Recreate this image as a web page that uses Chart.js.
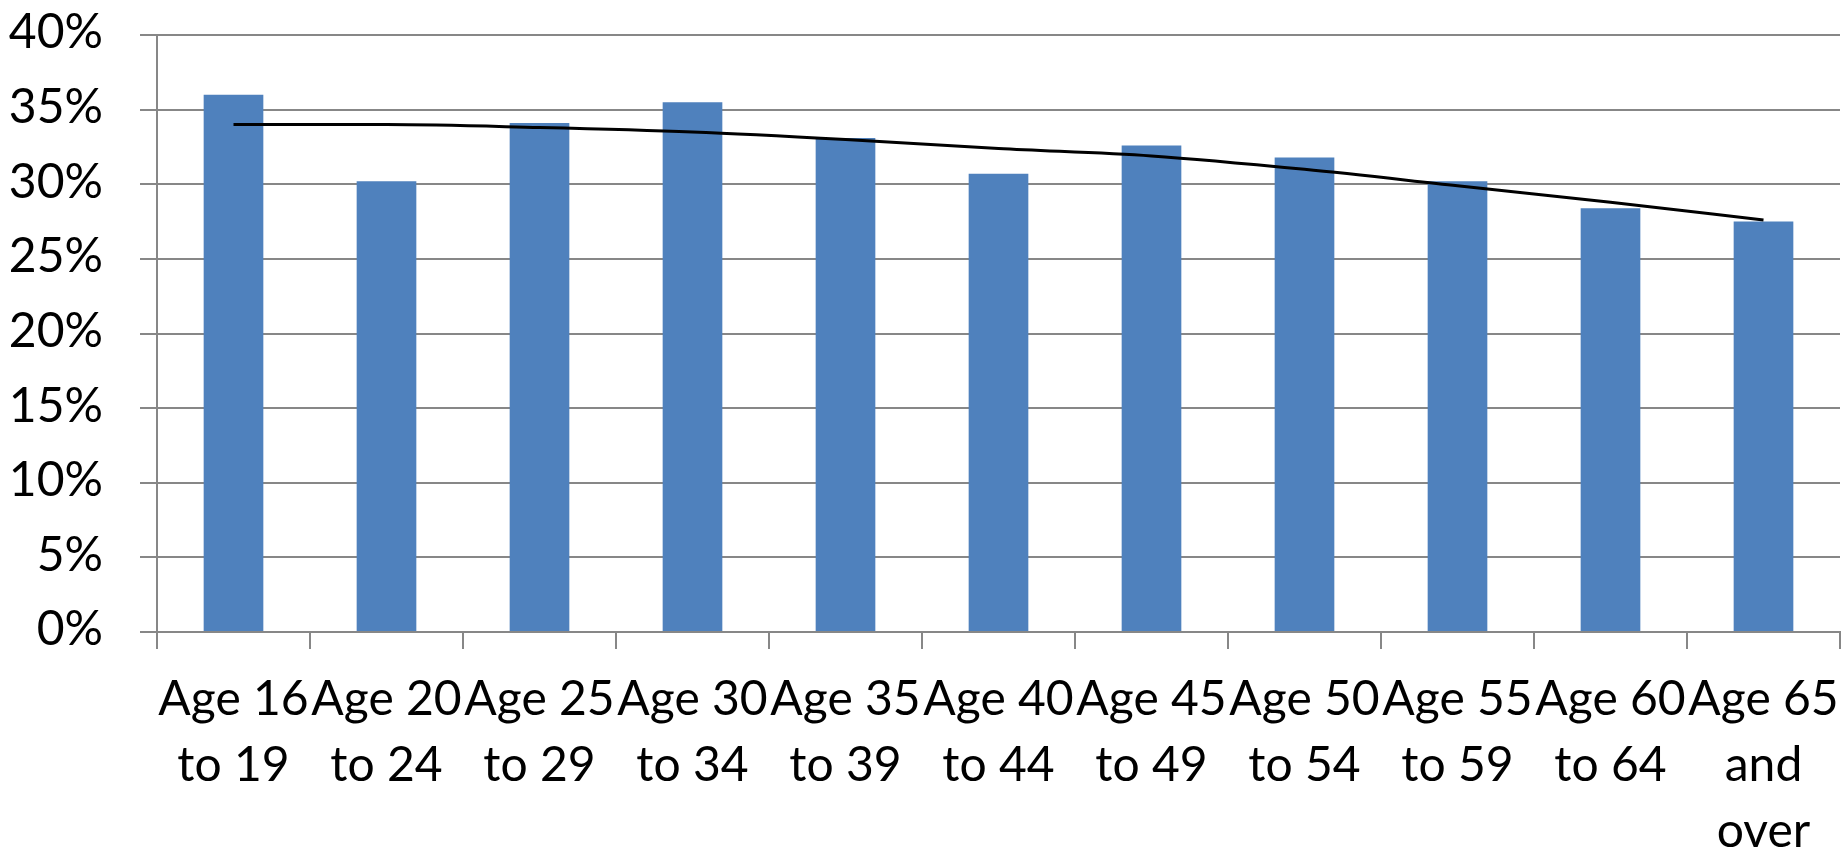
<!DOCTYPE html>
<html>
<head>
<meta charset="utf-8">
<title>Share by age group</title>
<script src="https://cdn.jsdelivr.net/npm/chart.js@4/dist/chart.umd.min.js"></script>
<style>
  html, body { margin: 0; padding: 0; background: #ffffff; }
  #wrap { width: 1841px; height: 850px; }
</style>
</head>
<body>
<div id="wrap"><canvas id="ageChart" width="1841" height="850"></canvas></div>
<script>
const ageGroups = [
  ["Age 16", "to 19"],
  ["Age 20", "to 24"],
  ["Age 25", "to 29"],
  ["Age 30", "to 34"],
  ["Age 35", "to 39"],
  ["Age 40", "to 44"],
  ["Age 45", "to 49"],
  ["Age 50", "to 54"],
  ["Age 55", "to 59"],
  ["Age 60", "to 64"],
  ["Age 65", "and", "over"],
];
const shareValues = [36.0, 30.2, 34.1, 35.5, 33.1, 30.7, 32.6, 31.8, 30.2, 28.4, 27.5];
const trendValues = [34.0, 34.0, 33.8, 33.5, 33.0, 32.4, 31.9, 31.0, 29.9, 28.8, 27.6];
const percentTicks = [0, 5, 10, 15, 20, 25, 30, 35, 40];

const gridGrey = "#878787";

Chart.defaults.font.family = "Lato, 'Open Sans', sans-serif";
Chart.defaults.font.size = 48;
Chart.defaults.color = "#000000";

var ageChart = new Chart(document.getElementById("ageChart"), {
  type: "bar",
  data: {
    labels: ageGroups,
    datasets: [
      {
        type: "line",
        label: "Trend",
        data: trendValues,
        borderColor: "#000000",
        borderWidth: 3,
        pointRadius: 0,
        fill: false,
        cubicInterpolationMode: "monotone",
        order: 0,
      },
      {
        label: "Share",
        data: shareValues,
        backgroundColor: "#4F81BD",
        barPercentage: 0.39,
        categoryPercentage: 1.0,
        order: 1,
      },
    ],
  },
  options: {
    responsive: false,
    animation: false,
    devicePixelRatio: 1,
    layout: { autoPadding: false, padding: { top: 35, right: 1, left: 0, bottom: 0 } },
    plugins: {
      legend: { display: false },
      tooltip: { enabled: false },
    },
    scales: {
      x: {
        offset: true,
        grid: {
          offset: true,
          drawOnChartArea: false,
          drawTicks: true,
          tickLength: 17,
          color: gridGrey,
          lineWidth: 2,
        },
        border: { display: true, color: gridGrey, width: 2 },
        ticks: {
          autoSkip: false,
          maxRotation: 0,
          minRotation: 0,
          padding: 17,
          font: { size: 48, lineHeight: 1.38 },
        },
        afterFit: function (scale) {
          scale.height = 218;
          scale.paddingLeft = 0;
          scale.paddingRight = 0;
        },
      },
      y: {
        min: 0,
        max: 40,
        afterBuildTicks: function (scale) {
          scale.ticks = percentTicks.map((v) => ({ value: v }));
        },
        grid: {
          color: gridGrey,
          lineWidth: 2,
          tickLength: 17,
        },
        border: { display: true, color: gridGrey, width: 2 },
        ticks: {
          padding: 37,
          labelOffset: -2,
          font: { size: 48 },
          callback: function (value) {
            return value + "%";
          },
        },
        afterFit: function (scale) {
          // pin the plot to the reference frame
          scale.width = 157;
          scale.paddingTop = 0;
          scale.paddingBottom = 0;
        },
      },
    },
  },
});
</script>
</body>
</html>
